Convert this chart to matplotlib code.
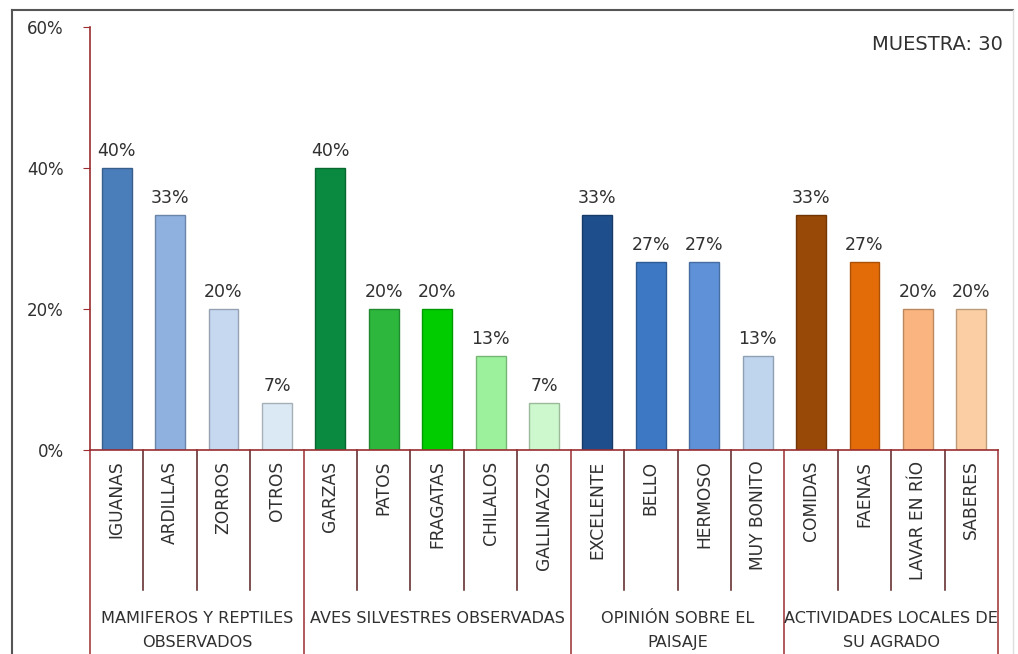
import matplotlib
matplotlib.use("Agg")
import matplotlib.pyplot as plt
from matplotlib.colors import to_rgb
from matplotlib.transforms import blended_transform_factory
from matplotlib.ticker import PercentFormatter

SAMPLE = 30

categories = ["IGUANAS", "ARDILLAS", "ZORROS", "OTROS",
              "GARZAS", "PATOS", "FRAGATAS", "CHILALOS", "GALLINAZOS",
              "EXCELENTE", "BELLO", "HERMOSO", "MUY BONITO",
              "COMIDAS", "FAENAS", "LAVAR EN RÍO", "SABERES"]
counts = [12, 10, 6, 2,
          12, 6, 6, 4, 2,
          10, 8, 8, 4,
          10, 8, 6, 6]
bar_colors = ["#4a7ebb", "#8eb1e0", "#c5d8f0", "#dbe9f4",
              "#0a8a40", "#2db83d", "#00cc00", "#9cf29c", "#cdf8cd",
              "#1f4e8c", "#3c78c3", "#5e91d8", "#bfd5ee",
              "#984807", "#e36c09", "#fab47f", "#fbcfa3"]
groups = ["MAMIFEROS Y REPTILES\nOBSERVADOS", "AVES SILVESTRES OBSERVADAS",
          "OPINIÓN SOBRE EL\nPAISAJE", "ACTIVIDADES LOCALES DE\nSU AGRADO"]
group_sizes = [4, 5, 4, 4]

values = [c / SAMPLE for c in counts]
axis_red = "#9b2d30"
text_col = "#303030"
plt.rcParams["font.family"] = ["DejaVu Sans"]


def darker(c, f=0.75):
    r, g, b = to_rgb(c)
    return (r * f, g * f, b * f)


fig = plt.figure(figsize=(10.18, 6.54), dpi=100)
ax = fig.add_axes([90 / 1018, (654 - 450) / 654, (998 - 90) / 1018, (450 - 27) / 654])

x = list(range(len(categories)))
ax.bar(x, values, width=0.56, color=bar_colors,
       edgecolor=[darker(c) for c in bar_colors], linewidth=1.0)
for xi, v in zip(x, values):
    ax.text(xi, v + 0.012, f"{v * 100:.0f}%", ha="center", va="bottom",
            fontsize=12.5, color=text_col)

ax.set_xlim(-0.5, len(categories) - 0.5)
ax.set_ylim(0, 0.6)
ax.set_yticks([0, 0.2, 0.4, 0.6])
ax.yaxis.set_major_formatter(PercentFormatter(1.0, decimals=0))
ax.tick_params(axis="y", direction="out", length=5, color=axis_red,
               labelsize=12, labelcolor=text_col, pad=14)
ax.set_xticks([])

for s in ["top", "right"]:
    ax.spines[s].set_visible(False)
for s in ["left", "bottom"]:
    ax.spines[s].set_color(axis_red)
    ax.spines[s].set_linewidth(1.2)

# category labels and separators below the axis
trans = blended_transform_factory(ax.transData, ax.transAxes)
for xi, name in zip(x, categories):
    ax.text(xi, -0.025, name, rotation=90, ha="center", va="top",
            fontsize=12.3, color=text_col, transform=trans)

boundaries = {0}
starts = []
pos = 0
for n in group_sizes:
    starts.append(pos)
    pos += n
    boundaries.add(pos)

for b in range(len(categories) + 1):
    major = b in boundaries
    ax.plot([b - 0.5, b - 0.5], [0, -0.49 if major else -0.33],
            color=axis_red if major else "#5a2020", lw=1.1,
            transform=trans, clip_on=False)

for st, n, label in zip(starts, group_sizes, groups):
    ax.text(st + n / 2 - 0.5, -0.38, label, ha="center", va="top",
            fontsize=11.6, color=text_col, transform=trans, linespacing=1.75)

fig.text(1003 / 1018, 1 - 45 / 654, "MUESTRA: 30", ha="right", va="center",
         fontsize=14, color=text_col)

# outer chart frame
fig.add_artist(plt.Line2D([12 / 1018, 12 / 1018], [0, 1 - 10 / 654],
                          transform=fig.transFigure, color="#555555", lw=1.5))
fig.add_artist(plt.Line2D([12 / 1018, 1013 / 1018], [1 - 10 / 654, 1 - 10 / 654],
                          transform=fig.transFigure, color="#555555", lw=1.5))
fig.add_artist(plt.Line2D([1013 / 1018, 1013 / 1018], [0, 1 - 10 / 654],
                          transform=fig.transFigure, color="#dddddd", lw=1.0))

fig.savefig("out.png", dpi=100)
